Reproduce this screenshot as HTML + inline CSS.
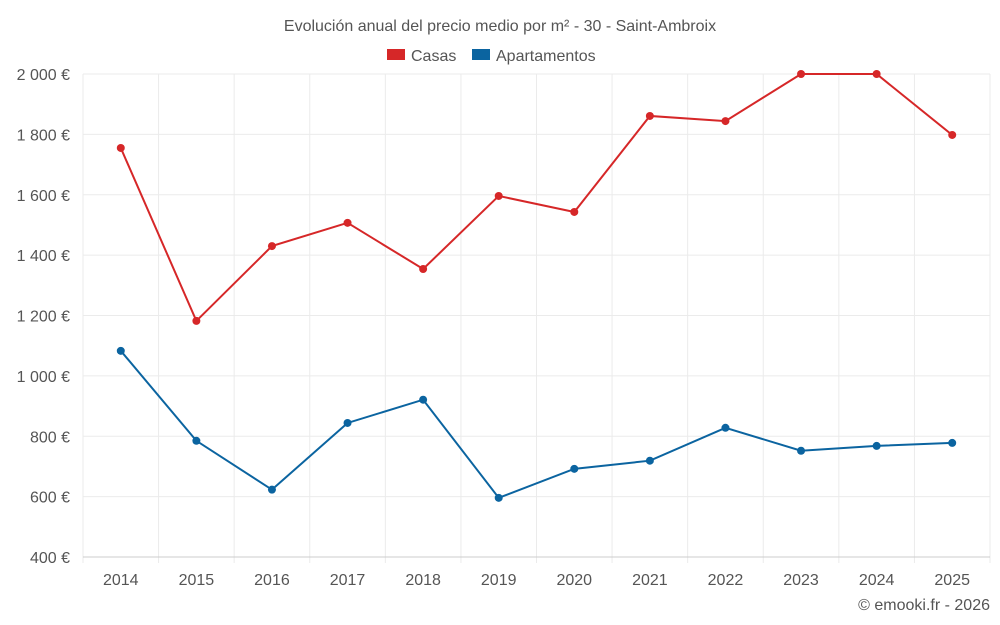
<!DOCTYPE html>
<html><head><meta charset="utf-8"><style>
html,body{margin:0;padding:0;background:#fff;}
svg{display:block;font-family:"Liberation Sans",sans-serif;}
</style></head><body>
<svg id="chart" width="1000" height="625">
<text x="500" y="31" text-anchor="middle" font-size="16" fill="#555">Evolución anual del precio medio por m² - 30 - Saint-Ambroix</text>
<g>
<g><rect x="387" y="49" width="18" height="11" fill="#d62728"/><text x="411" y="61" font-size="16" fill="#555">Casas</text></g>
<g><rect x="472" y="49" width="18" height="11" fill="#0b64a0"/><text x="496" y="61" font-size="16" fill="#555">Apartamentos</text></g>
</g>
<g id="grid"></g><g id="axes"></g><g id="series"></g>
<text x="990" y="610" text-anchor="end" font-size="16" fill="#555">© emooki.fr - 2026</text>
</svg>
<script>
const years=[2014,2015,2016,2017,2018,2019,2020,2021,2022,2023,2024,2025];
const casas=[1755,1182,1430,1507,1354,1596,1543,1861,1844,2000,2000,1798];
const apartamentos=[1083,785,623,844,921,596,692,719,828,752,768,778];
const yTicks=[400,600,800,1000,1200,1400,1600,1800,2000];
const L=83,R=990,T=74,B=557,yMin=400,yMax=2000;
const bw=(R-L)/years.length;
const x=i=>L+bw*(i+0.5);
const y=v=>B-(v-yMin)/(yMax-yMin)*(B-T);
const NS='http://www.w3.org/2000/svg';
function mk(tag,attrs,parent){const e=document.createElementNS(NS,tag);for(const k in attrs)e.setAttribute(k,attrs[k]);parent.appendChild(e);return e;}
const grid=document.getElementById('grid'),axes=document.getElementById('axes'),ser=document.getElementById('series');
yTicks.forEach(t=>{
 const l=mk('line',{x1:L,x2:R,y1:y(t),y2:y(t),stroke:'#ebebeb'},grid);
 
 
 const tx=mk('text',{x:70,y:y(t)+6,'text-anchor':'end','font-size':16,fill:'#555'},axes);
 tx.textContent=(t>=1000?Math.floor(t/1000)+' '+String(t%1000).padStart(3,'0'):t)+' €';
 
 
});
for(let i=0;i<=years.length;i++){
 const gx=L+bw*i;
 const l=mk('line',{x1:gx,x2:gx,y1:T,y2:B+6,stroke:'#ebebeb'},grid);
 
 
}
years.forEach((yr,i)=>{
 const tx=mk('text',{x:x(i),y:585,'text-anchor':'middle','font-size':16,fill:'#555'},axes);
 tx.textContent=yr;
 
 
});
const ax=mk('line',{x1:L,x2:R,y1:B,y2:B,stroke:'#ccc'},axes);


function draw(vals,color,name){
 const p=mk('polyline',{points:vals.map((v,i)=>x(i)+','+y(v)).join(' '),fill:'none',stroke:color,'stroke-width':2},ser);
 
 
 vals.forEach((v,i)=>{
  const c=mk('circle',{cx:x(i),cy:y(v),r:4,fill:color},ser);
  
  
 });
}
draw(casas,'#d62728','casas');
draw(apartamentos,'#0b64a0','apartamentos');
</script>
</body></html>
